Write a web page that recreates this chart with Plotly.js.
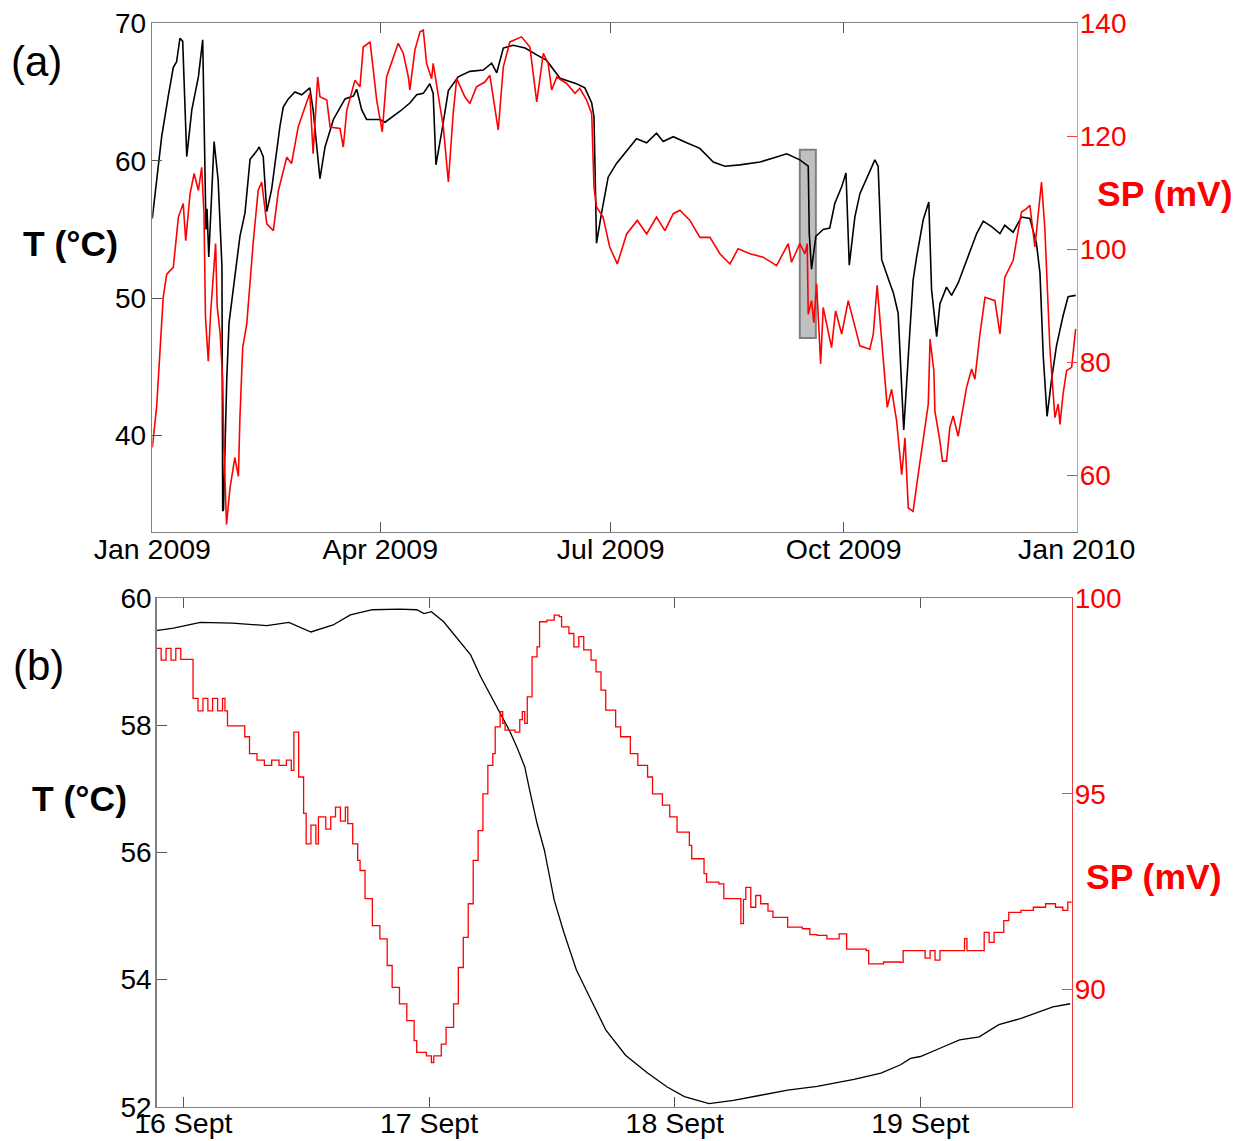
<!DOCTYPE html>
<html>
<head>
<meta charset="utf-8">
<script src="https://cdn.plot.ly/plotly-3.0.1.min.js"></script>
<style>html,body{margin:0;padding:0;background:#fff;}#chart{width:1249px;height:1141px;}</style>
</head>
<body>
<div id="chart"></div>
<script>
// ---------- Panel (a): whole year, x = days after 2009-01-01 ----------
const topDayT = [0,3.7,6.3,8.3,9.6,10.9,12,13.6,15.6,18.2,
19.9,21.2,21.6,22.3,24.4,26,27.5,27.8,28.1,29.4,
30.3,31.7,33,34.6,36.6,38.6,41.2,42.2,43.8,45.2,
47.1,48.4,50.4,51.7,53.7,56.3,59,62.2,63.5,66.2,
68.2,70.2,71.5,76.1,79.4,80.7,82.7,84.6,89.9,91.9,
97.8,101.7,104.4,107,109.6,110.9,112,114.2,116.9,120.8,
125.4,130.7,134,136,138.6,142.5,147.2,151.8,155.7,161,
167.5,170.8,173.5,174.4,174.8,175.4,177.4,180,183.3,187.3,
191.2,195.2,199.1,201.7,205.7,211,216.2,221.5,226.1,232,
239.9,245.2,250.5,255.7,258.4,259,259.4,260.3,262,264.9,
267.5,269.5,272.2,273.9,275.2,277.4,279.4,283.3,285.3,286.6,
288,291.2,292.6,294.5,296.7,298.5,300.4,301.8,304.4,306.6,
307.7,309.7,311,313.6,315.6,318.2,322.8,325.5,328.1,331.4,
334.7,336.6,339.9,343.2,346.5,349.1,350.5,351.8,353.3,355.1,
357,359.6,361.6,364.6];
const tempTop = [55.8,61.75,64.7,66.8,67.2,68.9,68.7,60.3,63.7,66.1,
68.8,55.0,56.5,53.0,61.4,58.6,52.3,34.5,34.6,44.1,
48.2,50.2,52.3,54.5,56.2,60.1,60.7,61.0,60.3,56.3,
57.9,59.8,62.5,63.9,64.5,65.0,64.8,65.3,63.7,58.7,
61.0,62.2,63.0,64.5,64.7,65.2,63.7,63.0,63.0,62.8,
63.6,64.2,64.8,64.9,65.6,64.9,59.7,62.0,65.1,66.1,
66.5,66.6,67.1,66.4,68.2,68.4,68.2,67.7,67.3,66.0,
65.6,65.3,64.2,63.2,58.4,54.0,56.2,58.8,59.8,60.7,
61.6,61.3,62.0,61.4,61.75,61.3,60.9,59.9,59.6,59.7,
59.9,60.2,60.5,60.06,59.7,59.6,54.7,52.1,54.5,55.0,
55.1,56.9,58.1,59.1,52.4,55.9,57.6,59.3,60.06,59.6,
52.8,51.1,50.4,48.9,40.4,45.75,51.3,53.0,55.7,57.0,
50.6,47.2,49.6,50.8,50.2,51.1,53.3,54.7,55.6,55.2,
54.7,55.3,54.8,55.9,55.8,54.0,51.8,45.75,41.4,44.1,
46.5,48.7,50.1,50.2];

const topDaySP = [0,1.7,3.0,4.3,5.7,8.3,10.3,12.2,13.2,14.9,
16.5,18.2,19.5,20.4,21.0,22.1,23.0,25.0,25.6,26.8,
27.8,28.2,29.3,30.7,32.6,34.0,34.6,35.7,37.3,38.6,
39.9,41.8,43.2,45.2,47.8,49.8,53.1,55,57.6,60.3,
62.2,63.5,65.3,66.2,68.9,70.2,74.1,75.4,76.8,80,
82,83.3,86,88.6,90.8,92.5,94.5,97.1,99.1,101.1,
101.7,103.7,105.7,107,108.3,110.3,110.9,114.9,116.9,118.8,
120.2,123.4,125.4,128,131.3,133.3,136.6,138.6,141.2,145.8,
149.1,151.8,154.4,156.3,157.7,159.7,163.6,166.9,168.8,171.5,
173.5,174.4,175.4,178,180.6,183.6,187.3,191.5,195.2,199.1,
202.4,205.7,208.3,212.3,216.2,220.2,224.1,228.1,231.3,236,
241.2,246.5,251.1,252.4,255.7,257.7,258.6,259,260.3,261.2,
262.3,263.9,264.9,268.2,269.8,272.2,274.8,276.8,279.4,283.3,
284.7,286.2,288,290.2,291.9,293.9,295.9,297.2,298.5,300.4,
302.4,304.4,306.4,307.1,308.6,309,311,312,313.6,314.9,
316.2,318.2,320.2,321.5,323.5,324.8,326.8,328.8,332.7,334.7,
336.6,339.9,341.2,343.2,345.2,346.5,348.5,349.8,351.1,352.4,
354.4,356.4,357.7,358.4,359.6,361,363,364.6];
const spTop = [64.9,72.0,81.7,91.5,95.6,96.8,105.7,108.1,101.5,109.8,
113.4,110.4,114.5,106.3,88,80.2,88.5,101.0,90.0,85.0,
76.7,66.0,51.3,57.8,63.1,59.8,70.2,82.6,86.8,94.4,
101.5,110.4,111.9,104.5,103.3,110.4,116.3,115.2,121.65,125.2,
127.6,116.9,130.5,127.0,126.4,121.65,121.4,118.1,124.6,129.9,
128.75,135.8,136.7,126.4,120.8,130.5,133.2,136.45,134.7,130.5,
128.2,135.3,138.5,138.8,132.9,130.2,132.9,121.65,111.9,124.0,
130.2,127.0,125.8,128.75,129.6,130.8,121.1,132.3,136.7,137.6,
135.8,126.1,134.7,132.9,128.2,130.5,129.35,127.6,128.5,126.4,
124.0,111.0,107.5,105.7,100.4,97.4,102.7,105.1,102.7,105.7,
103.3,106.3,106.9,105.1,102.1,102.1,99.2,97.4,100.1,99.2,
98.6,97.1,101.0,97.7,101.0,99.2,101.0,88.5,90.9,87.0,
93.9,79.7,89.7,82.6,89.1,85.0,90.9,87.3,82.9,82.3,
85.0,93.6,83.8,72.0,75.2,69.6,60.1,66.6,54.2,53.6,
60.1,66.6,72.6,84.1,78.5,71.4,66.05,62.5,62.5,68.4,
70.5,66.9,72.0,75.5,78.8,77.0,85.0,91.5,90.9,85.0,
95.0,98.0,101.5,106.6,107.2,107.8,100.4,105.7,111.9,103.9,
82.6,70.2,72.6,69.0,74.3,78.5,79.1,85.9];

const topTickVals = ['2009-01-01','2009-04-01','2009-07-01','2009-10-01','2010-01-01'];
const topTickText = ['Jan 2009','Apr 2009','Jul 2009','Oct 2009','Jan 2010'];
const topTTicks = [40,50,60,70];
const topSPTicks = [60,80,100,120,140];

// zoom window marked in panel (a)
const zoomStart = '2009-09-13 16:00', zoomEnd = '2009-09-20 00:00';
const zoomTLow = 47.1, zoomTHigh = 60.8;

// ---------- Panel (b): 16-19 Sept, x = fractional day of September ----------
const botDayT = [15.89,15.96,16.07,16.20,16.34,16.43,16.52,16.61,16.68,16.77,
16.88,16.95,16.98,17.01,17.06,17.11,17.17,17.21,17.25,17.29,
17.33,17.36,17.39,17.41,17.44,17.47,17.51,17.55,17.60,17.66,
17.72,17.80,17.89,17.97,18.04,18.14,18.24,18.35,18.46,18.58,
18.73,18.84,18.92,18.96,19.00,19.08,19.16,19.24,19.32,19.41,
19.49,19.54,19.61];
const tempBot = [59.49,59.53,59.62,59.61,59.57,59.62,59.47,59.58,59.74,59.82,
59.83,59.82,59.76,59.79,59.63,59.40,59.11,58.77,58.48,58.19,
57.90,57.64,57.35,56.98,56.46,56.04,55.25,54.73,54.15,53.68,
53.21,52.81,52.53,52.31,52.16,52.05,52.10,52.18,52.26,52.32,
52.43,52.53,52.66,52.76,52.79,52.92,53.05,53.10,53.29,53.39,
53.50,53.57,53.62];

const botDaySP = [15.89,15.91,15.93,15.95,15.97,15.99,16.04,16.06,16.08,16.10,
16.12,16.14,16.16,16.17,16.18,16.25,16.27,16.30,16.33,16.36,
16.39,16.42,16.44,16.45,16.47,16.49,16.50,16.52,16.54,16.55,
16.58,16.60,16.62,16.64,16.66,16.67,16.69,16.71,16.72,16.74,
16.77,16.80,16.83,16.85,16.88,16.91,16.94,16.95,16.99,17.01,
17.02,17.05,17.07,17.10,17.12,17.14,17.16,17.18,17.20,17.22,
17.24,17.26,17.27,17.29,17.30,17.31,17.35,17.37,17.38,17.39,
17.40,17.42,17.44,17.45,17.48,17.51,17.53,17.54,17.57,17.59,
17.61,17.63,17.66,17.68,17.70,17.72,17.76,17.78,17.82,17.85,
17.89,17.91,17.95,17.98,18.01,18.06,18.07,18.12,18.13,18.18,
18.20,18.27,18.28,18.29,18.31,18.33,18.35,18.38,18.40,18.46,
18.52,18.55,18.58,18.62,18.67,18.70,18.78,18.79,18.85,18.92,
18.93,19.02,19.04,19.06,19.08,19.18,19.19,19.26,19.28,19.30,
19.34,19.36,19.41,19.46,19.51,19.55,19.58,19.60,19.62];
const spBot = [98.72,98.42,98.72,98.42,98.72,98.44,97.44,97.12,97.44,97.12,
97.44,97.12,97.44,97.12,96.74,96.46,96.03,95.86,95.73,95.86,
95.73,95.86,95.6,96.58,95.43,94.5,93.72,94.2,93.72,94.41,
94.1,94.41,94.66,94.3,94.66,94.24,93.72,93.3,93.04,92.32,
91.63,91.29,90.61,90.05,89.63,89.2,88.69,88.39,88.3,88.13,
88.3,88.6,89.03,89.63,90.56,91.33,92.19,93.3,94.06,95.0,
95.73,96.03,96.71,97.1,96.8,96.63,96.58,96.9,97.1,96.8,
97.48,98.5,98.76,99.4,99.44,99.57,99.53,99.27,99.1,98.76,
99.02,98.68,98.42,98.12,97.65,97.14,96.71,96.46,96.03,95.73,
95.43,95.0,94.71,94.41,94.02,93.68,93.34,92.96,92.74,92.7,
92.32,91.68,92.3,92.61,92.1,92.4,92.19,92.0,91.84,91.59,
91.55,91.4,91.38,91.29,91.42,91.03,90.99,90.65,90.7,90.69,
90.99,90.8,90.99,90.75,90.99,91.3,90.99,91.46,91.2,91.46,
91.76,91.97,92.02,92.10,92.19,92.1,92.02,92.23,92.23];

const botTickVals = ['2009-09-16','2009-09-17','2009-09-18','2009-09-19'];
const botTickText = ['16 Sept','17 Sept','18 Sept','19 Sept'];
const botRange = ['2009-09-15 21:24','2009-09-19 14:47'];
const botTTicks = [52,54,56,58,60];
const botSPTicks = [90,95,100];

// ---------- helpers: convert day offsets into date strings ----------
function fmt(ms){ return new Date(ms).toISOString().slice(0,16).replace('T',' '); }
const yearDate = d => fmt(Date.UTC(2009,0,1) + d*86400000);
const septDate = t => fmt(Date.UTC(2009,7,31) + t*86400000);

const FONT = 'Arial, "Liberation Sans", sans-serif';
const GREY = '#808080';

const traces = [
  {x: topDayT.map(yearDate), y: tempTop, xaxis:'x', yaxis:'y', type:'scatter', mode:'lines',
   line:{color:'#000000', width:1.6}, hoverinfo:'skip'},
  {x: topDaySP.map(yearDate), y: spTop, xaxis:'x', yaxis:'y2', type:'scatter', mode:'lines',
   line:{color:'#ff0000', width:1.6}, hoverinfo:'skip'},
  {x: botDayT.map(septDate), y: tempBot, xaxis:'x2', yaxis:'y3', type:'scatter', mode:'lines',
   line:{color:'#000000', width:1.3}, hoverinfo:'skip'},
  {x: botDaySP.map(septDate), y: spBot, xaxis:'x2', yaxis:'y4', type:'scatter', mode:'lines',
   line:{color:'#ff0000', width:1.3, shape:'hv'}, hoverinfo:'skip'}
];

const tickFont = {family:FONT, size:28.5, color:'#000'};
const redFont = {family:FONT, size:28, color:'#ff0000'};
const W = 1249, H = 1141;

const layout = {
  width:W, height:H, margin:{l:0,r:0,t:0,b:0},
  paper_bgcolor:'#ffffff', plot_bgcolor:'#ffffff', showlegend:false,
  font:{family:FONT, color:'#000'},
  xaxis:{domain:[152.3/W, 1076.7/W], anchor:'y', type:'date',
    range:['2009-01-01','2010-01-01'], tickvals:topTickVals, ticktext:topTickText,
    ticks:'inside', ticklen:10, tickwidth:1, tickcolor:'#555', showline:true, linecolor:GREY,
    linewidth:1.5, mirror:'ticks', showgrid:false, zeroline:false, tickfont:tickFont, tickangle:0,
    ticklabelstandoff:-8},
  yaxis:{domain:[1-531.7/H, 1-23.3/H], anchor:'x', range:[33,70], tickvals:topTTicks,
    ticks:'inside', ticklen:10, tickwidth:1, tickcolor:'#555', showline:true, linecolor:GREY,
    linewidth:1.5, showgrid:false, zeroline:false, tickfont:{family:FONT, size:28, color:'#000'},
    ticklabelstandoff:-1},
  yaxis2:{overlaying:'y', side:'right', anchor:'x', range:[50,140], tickvals:topSPTicks,
    ticks:'inside', ticklen:10, tickwidth:1, tickcolor:'#ff4040', showline:true, linecolor:'#ff8a8a',
    linewidth:1.5, showgrid:false, zeroline:false, tickfont:redFont, ticklabelstandoff:-4},
  xaxis2:{domain:[156.7/W, 1071.7/W], anchor:'y3', type:'date',
    range:botRange, tickvals:botTickVals, ticktext:botTickText,
    ticks:'inside', ticklen:10, tickwidth:1, tickcolor:'#555', showline:true, linecolor:GREY,
    linewidth:1.5, mirror:'ticks', showgrid:false, zeroline:false, tickfont:tickFont, tickangle:0,
    ticklabelstandoff:-9},
  yaxis3:{domain:[1-1106.7/H, 1-598.3/H], anchor:'x2', range:[52,60], tickvals:botTTicks,
    ticks:'inside', ticklen:10, tickwidth:1, tickcolor:'#555', showline:true, linecolor:GREY,
    linewidth:1.5, showgrid:false, zeroline:false, tickfont:{family:FONT, size:28, color:'#000'},
    ticklabelstandoff:-2},
  yaxis4:{overlaying:'y3', side:'right', anchor:'x2', range:[87,100], tickvals:botSPTicks,
    ticks:'inside', ticklen:10, tickwidth:1, tickcolor:'#ff4040', showline:true, linecolor:'#e83a3a',
    linewidth:1.5, showgrid:false, zeroline:false, tickfont:redFont, ticklabelstandoff:-4},
  shapes:[
    {type:'rect', xref:'x', yref:'y', x0:zoomStart, x1:zoomEnd, y0:zoomTLow, y1:zoomTHigh,
     fillcolor:'#c0c0c0', line:{color:'#808080', width:2}, layer:'below'}
  ],
  annotations:[
    {text:'(a)', xref:'paper', yref:'paper', x:9/W, y:1-61/H, xanchor:'left', yanchor:'middle',
     showarrow:false, font:{family:FONT, size:42, color:'#000'}},
    {text:'(b)', xref:'paper', yref:'paper', x:11/W, y:1-665/H, xanchor:'left', yanchor:'middle',
     showarrow:false, font:{family:FONT, size:42, color:'#000'}},
    {text:'<b>T (°C)</b>', xref:'paper', yref:'paper', x:70/W, y:1-244/H, xanchor:'center', yanchor:'middle',
     showarrow:false, font:{family:FONT, size:35.5, color:'#000'}},
    {text:'<b>T (°C)</b>', xref:'paper', yref:'paper', x:79/W, y:1-799/H, xanchor:'center', yanchor:'middle',
     showarrow:false, font:{family:FONT, size:35.5, color:'#000'}},
    {text:'<b>SP (mV)</b>', xref:'paper', yref:'paper', x:1164/W, y:1-194/H, xanchor:'center', yanchor:'middle',
     showarrow:false, font:{family:FONT, size:35.5, color:'#ff0000'}},
    {text:'<b>SP (mV)</b>', xref:'paper', yref:'paper', x:1153/W, y:1-877/H, xanchor:'center', yanchor:'middle',
     showarrow:false, font:{family:FONT, size:35.5, color:'#ff0000'}}
  ]
};

Plotly.newPlot('chart', traces, layout, {staticPlot:true, displayModeBar:false});
</script>
</body>
</html>
